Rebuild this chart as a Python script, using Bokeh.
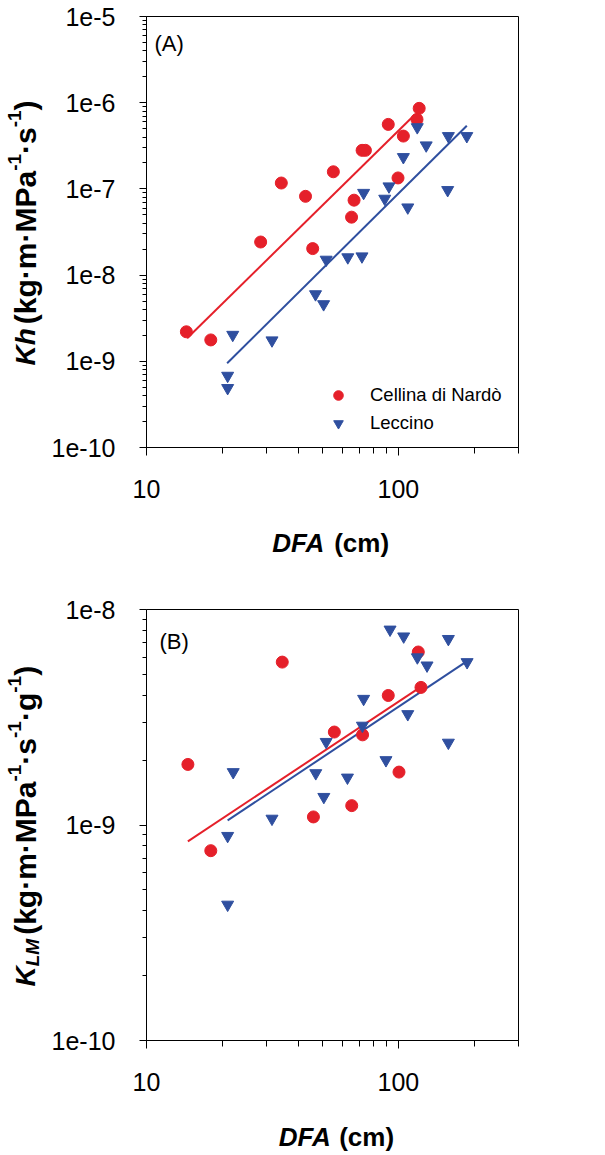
from bokeh.plotting import figure
from bokeh.models import (Range1d, FixedTicker, CustomJSTickFormatter, Label,
                          Legend, LegendItem, ColumnDataSource)
from bokeh.layouts import column, row
from bokeh.embed import file_html
from bokeh.resources import INLINE

# ---------------- data ----------------
# Panel A: Kh vs DFA
kh_cellina_dfa = [14.4, 18.0, 28.4, 34.3, 42.8, 45.7, 55.2, 65.2, 66.7, 71.8, 74.0, 91.2, 99.7, 104.7, 118.6, 121.0]
kh_cellina_val = [2.2e-9, 1.77e-9, 2.42e-8, 1.17e-7, 8.2e-8, 2.03e-8, 1.58e-7, 4.7e-8, 7.4e-8, 2.8e-7, 2.8e-7,
                  5.6e-7, 1.34e-7, 4.1e-7, 6.4e-7, 8.6e-7]
kh_leccino_dfa = [21.0, 21.0, 22.0, 31.5, 46.9, 50.5, 51.7, 63.0, 71.7, 72.8, 88.3, 91.8, 104.7, 109.0, 118.9,
                  129.0, 157.0, 158.0, 187.0]
kh_leccino_val = [6.8e-10, 4.9e-10, 2.03e-9, 1.75e-9, 6.0e-9, 4.6e-9, 1.51e-8, 1.61e-8, 1.65e-8, 9.0e-8, 7.7e-8,
                  1.07e-7, 2.34e-7, 6.1e-8, 5.2e-7, 3.2e-7, 9.7e-8, 4.1e-7, 4.1e-7]
kh_cellina_fit_dfa = [14.5, 116.4]
kh_cellina_fit_val = [1.85e-9, 7.3e-7]
kh_leccino_fit_dfa = [20.9, 187.0]
kh_leccino_fit_val = [9.5e-10, 5.4e-7]

# Panel B: KLM vs DFA
klm_cellina_dfa = [14.6, 18.0, 34.6, 46.0, 55.7, 65.3, 72.1, 91.2, 100.6, 120.0, 123.0]
klm_cellina_val = [1.91e-9, 7.6e-10, 5.7e-9, 1.09e-9, 2.70e-9, 1.23e-9, 2.62e-9, 3.99e-9, 1.76e-9, 6.35e-9, 4.35e-9]
klm_leccino_dfa = [21.0, 21.0, 22.1, 31.5, 47.0, 50.6, 51.7, 62.8, 72.0, 72.8, 89.3, 92.7, 105.0, 109.0, 119.0,
                   130.0, 158.0, 158.0, 187.5]
klm_leccino_val = [8.9e-10, 4.27e-10, 1.76e-9, 1.07e-9, 1.74e-9, 1.35e-9, 2.43e-9, 1.66e-9, 2.89e-9, 3.85e-9,
                   2.0e-9, 8.07e-9, 7.5e-9, 3.27e-9, 6.0e-9, 5.5e-9, 7.3e-9, 2.41e-9, 5.7e-9]
klm_cellina_fit_dfa = [14.6, 122.0]
klm_cellina_fit_val = [8.4e-10, 4.35e-9]
klm_leccino_fit_dfa = [21.0, 183.0]
klm_leccino_fit_val = [1.05e-9, 5.65e-9]

series_names = ["Cellina di Nardò", "Leccino"]
x_major = [10, 100]
x_minor = [20, 30, 40, 50, 60, 70, 80, 90, 200, 300]

# ---------------- styling ----------------
RED = "#E5202A"
BLUE = "#2F4F9F"
FONT = "Liberation Sans"

# Arial/Liberation Sans Bold advance widths (per 1000 em) for laying out title pieces
AW = {"(": 333, ")": 333, "k": 556, "g": 611, "·": 333, "m": 889, "M": 833, "P": 667,
      "a": 556, "s": 556, "-": 333, "1": 556, "K": 722, "h": 611, "L": 611}


def tw(s, size):
    return sum(AW[c] for c in s) * size / 1000.0


def decade_ticks(lo_exp, hi_exp):
    majors = [10.0 ** e for e in range(lo_exp, hi_exp + 1)]
    minors = [m * 10.0 ** e for e in range(lo_exp, hi_exp) for m in range(2, 10)]
    return majors, minors


STRIP_W = 48
LEFT = 96
RIGHT = 40
FW = 372
PAGE_H = 1153


def base_fig(y_lo, y_hi, top, bottom):
    p = figure(x_axis_type="log", y_axis_type="log",
               x_range=Range1d(10, 300), y_range=Range1d(10.0 ** y_lo, 10.0 ** y_hi),
               frame_width=FW, frame_height=431,
               min_border_left=LEFT, min_border_right=RIGHT,
               min_border_top=top, min_border_bottom=bottom,
               output_backend="svg", toolbar_location=None)
    p.background_fill_color = "white"
    p.border_fill_color = "white"
    p.outline_line_color = "black"
    p.outline_line_width = 1
    p.xgrid.visible = False
    p.ygrid.visible = False

    p.xaxis.ticker = FixedTicker(ticks=x_major, minor_ticks=x_minor)
    p.xaxis.formatter = CustomJSTickFormatter(code="return Math.round(tick).toString();")
    ymaj, ymin = decade_ticks(y_lo, y_hi)
    p.yaxis.ticker = FixedTicker(ticks=ymaj, minor_ticks=ymin)
    p.yaxis.formatter = CustomJSTickFormatter(code="return '1e' + Math.round(Math.log10(tick));")

    for ax in (p.xaxis[0], p.yaxis[0]):
        ax.axis_line_color = "black"
        ax.axis_line_width = 1
        ax.major_tick_line_color = "black"
        ax.minor_tick_line_color = "black"
        ax.major_tick_in = 0
        ax.minor_tick_in = 0
        ax.major_label_text_font = FONT
        ax.major_label_text_font_size = "25px"
        ax.major_label_text_color = "black"
    p.xaxis.major_tick_out = 8
    p.xaxis.minor_tick_out = 6
    p.xaxis.major_label_standoff = 24
    p.yaxis.major_tick_out = 7
    p.yaxis.minor_tick_out = 4
    p.yaxis.major_label_standoff = 24
    return p


def text_fig(width, height, left=0, right=0):
    f = figure(width=width, height=height, x_range=Range1d(0, 1), y_range=Range1d(0, 1),
               x_axis_location=None, y_axis_location=None,
               min_border_left=left, min_border_right=right, min_border_top=0, min_border_bottom=0,
               output_backend="svg", toolbar_location=None)
    f.outline_line_color = None
    f.background_fill_color = "white"
    f.border_fill_color = "white"
    f.grid.visible = False
    return f


def lbl(p, x, y, text, size, style="bold", angle=0, align="left", baseline="middle"):
    p.add_layout(Label(x=x, y=y, x_units="screen", y_units="screen", text=text,
                       text_font=FONT, text_font_size=size, text_font_style=style,
                       text_color="black", angle=angle, angle_units="deg",
                       text_align=align, text_baseline=baseline))


def dfa_label(p, junction_x, cm_x, y):
    lbl(p, junction_x, y, "DFA", "26px", "bold italic", align="right")
    lbl(p, cm_x, y, "(cm)", "26px", "bold", align="left")


def vertical_title(f, x_mid, y_start, pieces):
    # pieces: (text, size, style, raise_px, gap_after); text runs bottom -> top
    y = y_start
    for text, size, style, rise, gap in pieces:
        lbl(f, x_mid - rise, y, text, "%gpx" % size, style, angle=90, align="left")
        y += tw(text, size) + gap


# ---------------- Panel A ----------------
p1 = base_fig(-10, -5, 16, 66)

src_a_red = ColumnDataSource(dict(x=kh_cellina_dfa, y=kh_cellina_val))
src_a_blue = ColumnDataSource(dict(x=kh_leccino_dfa, y=kh_leccino_val))
p1.line(kh_cellina_fit_dfa, kh_cellina_fit_val, line_color=RED, line_width=2)
p1.line(kh_leccino_fit_dfa, kh_leccino_fit_val, line_color=BLUE, line_width=2)
r_red = p1.scatter("x", "y", source=src_a_red, marker="circle", size=12,
                   fill_color=RED, line_color=RED)
r_blue = p1.scatter("x", "y", source=src_a_blue, marker="inverted_triangle", size=12,
                    fill_color=BLUE, line_color=BLUE)

legend = Legend(items=[LegendItem(label=series_names[0], renderers=[r_red]),
                       LegendItem(label=series_names[1], renderers=[r_blue])],
                location=(180, 12), border_line_color=None, background_fill_alpha=0,
                padding=0, margin=0, spacing=4, glyph_width=24, glyph_height=24,
                label_height=24, label_standoff=20, label_text_font=FONT,
                label_text_font_size="18.5px", label_text_color="black")
p1.add_layout(legend)
lbl(p1, 8, 404, "(A)", "22px", "normal")

xlab_a = text_fig(LEFT + FW + RIGHT, 76, LEFT, RIGHT)
dfa_label(xlab_a, 177.7, 187.7, 47)

# ---------------- Panel B ----------------
p2 = base_fig(-10, -8, 20, 66)

p2.line(klm_cellina_fit_dfa, klm_cellina_fit_val, line_color=RED, line_width=2)
p2.line(klm_leccino_fit_dfa, klm_leccino_fit_val, line_color=BLUE, line_width=2)
p2.scatter(klm_cellina_dfa, klm_cellina_val, marker="circle", size=12,
           fill_color=RED, line_color=RED)
p2.scatter(klm_leccino_dfa, klm_leccino_val, marker="inverted_triangle", size=12,
           fill_color=BLUE, line_color=BLUE)
lbl(p2, 13, 399, "(B)", "22px", "normal")

xlab_b = text_fig(LEFT + FW + RIGHT, 47, LEFT, RIGHT)
dfa_label(xlab_b, 184.3, 192.7, 17)

# ---------------- y-axis titles strip ----------------
ystrip = text_fig(STRIP_W, PAGE_H)
BI = "bold italic"
B = "bold"
# Kh (kg·m·MPa-1·s-1)
vertical_title(ystrip, 25, PAGE_H - 365, [
    ("Kh", 28, BI, 0, 4),
    ("(kg·m·MPa", 30, B, 0, 0),
    ("-1", 19, B, 11, 0),
    ("·s", 30, B, 0, 0),
    ("-1", 19, B, 11, 0),
    (")", 30, B, 0, 0),
])
# K_LM (kg·m·MPa-1·s-1·g-1)
vertical_title(ystrip, 25, PAGE_H - 986, [
    ("K", 28, BI, 0, 0),
    ("LM", 19, BI, -7, 4),
    ("(kg·m·MPa", 30, B, 0, 0),
    ("-1", 19, B, 11, 0),
    ("·s", 30, B, 0, 0),
    ("-1", 19, B, 11, 0),
    ("·g", 30, B, 0, 0),
    ("-1", 19, B, 11, 0),
    (")", 30, B, 0, 0),
])

layout = row(ystrip, column(p1, xlab_a, p2, xlab_b, spacing=0), spacing=0)
open("out.html", "w").write(file_html(layout, INLINE))
